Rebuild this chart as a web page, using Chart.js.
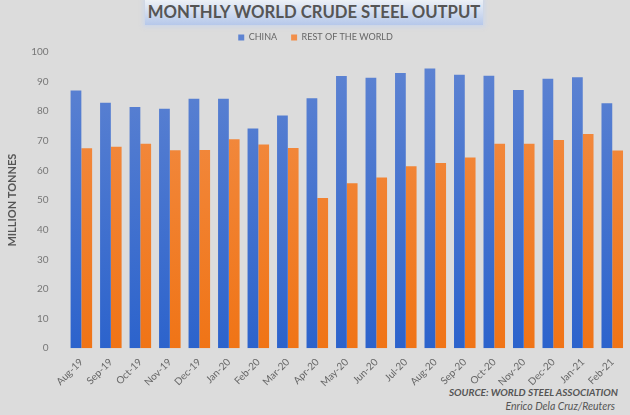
<!DOCTYPE html>
<html>
<head>
<meta charset="utf-8">
<script src="https://cdn.jsdelivr.net/npm/chart.js@4.4.0/dist/chart.umd.min.js"></script>
<style>
  html, body { margin: 0; padding: 0; background: #dcdcdc; }
  .wrap { position: relative; width: 630px; height: 415px; background: #dcdcdc; overflow: hidden; }
  .title {
    position: absolute; left: 145px; top: 0; width: 338px; height: 25px;
    background: linear-gradient(#ecf0f6, #b6c8ea);
    box-shadow: 0 0 4px 2px rgba(200, 212, 236, 0.8);
    font: bold 16.7px Lato, sans-serif; color: #555;
    text-align: center; line-height: 25px; white-space: nowrap;
  }
  .source {
    position: absolute; right: 12px; top: 386px; text-align: right;
    font: italic bold 10px Lato, sans-serif; color: #555;
  }
  .credit {
    position: absolute; right: 15px; top: 400px; text-align: right;
    font: italic 10.5px Lato, sans-serif; color: #555;
  }
  canvas { position: absolute; left: 0; top: 0; }
</style>
</head>
<body>
<div class="wrap">
  <div class="title">MONTHLY WORLD CRUDE STEEL OUTPUT</div>
  <div class="source">SOURCE: WORLD STEEL ASSOCIATION</div>
  <div class="credit">Enrico Dela Cruz/Reuters</div>
  <canvas id="chartContainer" width="630" height="415"></canvas>
</div>
<script>
const months = ['Aug-19', 'Sep-19', 'Oct-19', 'Nov-19', 'Dec-19', 'Jan-20', 'Feb-20', 'Mar-20', 'Apr-20', 'May-20',
  'Jun-20', 'Jul-20', 'Aug-20', 'Sep-20', 'Oct-20', 'Nov-20', 'Dec-20', 'Jan-21', 'Feb-21'];
const china = [87.0, 82.9, 81.4, 80.8, 84.2, 84.2, 74.2, 78.6, 84.4, 91.9,
  91.3, 92.9, 94.4, 92.3, 92.0, 87.2, 91.0, 91.5, 82.7];
const restOfWorld = [67.5, 68.0, 69.0, 66.8, 66.9, 70.5, 68.8, 67.6, 50.7, 55.7,
  57.6, 61.4, 62.5, 64.4, 69.0, 69.0, 70.3, 72.3, 66.7];
const yTicks = [0, 10, 20, 30, 40, 50, 60, 70, 80, 90, 100];

const ctx = document.getElementById('chartContainer').getContext('2d');

// vertical fade on the bars, lighter at the top
function barFill(top, bottom, flat) {
  return (c) => {
    const area = c.chart.chartArea;
    if (!area) return flat;
    const g = c.chart.ctx.createLinearGradient(0, area.top, 0, area.bottom);
    g.addColorStop(0, top);
    g.addColorStop(1, bottom);
    return g;
  };
}

const myChart = new Chart(ctx, {
  type: 'bar',
  data: {
    labels: months,
    datasets: [{
      label: 'CHINA',
      data: china,
      backgroundColor: barFill('#5f84d2', '#2c63cc', '#4472c4'),
      borderWidth: 0
    }, {
      label: 'REST OF THE WORLD',
      data: restOfWorld,
      backgroundColor: barFill('#f28f4a', '#f07416', '#ed7d31'),
      borderWidth: 0
    }]
  },
  options: {
    responsive: false,
    animation: false,
    layout: { padding: { top: 19, right: 3, bottom: 26, left: 4 } },
    datasets: { bar: { barPercentage: 1.0, categoryPercentage: 0.73 } },
    plugins: {
      legend: {
        labels: {
          boxWidth: 6, boxHeight: 6, padding: 14,
          color: '#666', font: { family: 'Lato', size: 9 }
        }
      },
      tooltip: { enabled: false }
    },
    scales: {
      x: {
        grid: { display: false },
        border: { display: false },
        afterFit: (axis) => { axis.paddingLeft = 0; axis.paddingRight = 0; },
        ticks: {
          color: '#666', font: { family: 'Lato', size: 10 },
          minRotation: 45, maxRotation: 45, padding: 0
        }
      },
      y: {
        min: 0, max: 100,
        afterBuildTicks: (axis) => { axis.ticks = yTicks.map(v => ({ value: v })); },
        grid: { display: false },
        border: { display: false },
        ticks: {
          color: '#777', font: { family: 'Lato', size: 10 }, padding: 10,
          autoSkip: false, callback: (v) => String(v)
        },
        title: {
          display: true, text: 'MILLION TONNES',
          color: '#555', font: { family: 'Lato', size: 11, weight: 'bold' }, padding: 2
        }
      }
    }
  }
});
</script>
</body>
</html>
